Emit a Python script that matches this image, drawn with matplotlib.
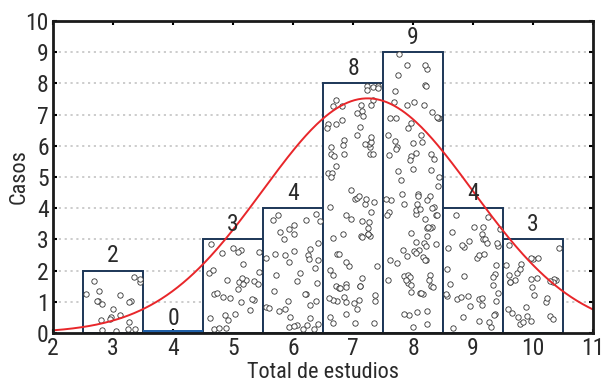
import numpy as np
import matplotlib.pyplot as plt

# histogram data
bins = [3, 4, 5, 6, 7, 8, 9, 10]
counts = [2, 0, 3, 4, 8, 9, 4, 3]

plt.rcParams['font.family'] = ['Roboto Condensed', 'Liberation Sans Narrow', 'Roboto', 'DejaVu Sans']
txt = '#2a2a2a'
edge = '#1c3657'

fig = plt.figure(figsize=(6.04, 3.89), dpi=100)
ax = fig.add_axes([0.0877, 0.144, 0.8943, 0.802])

ax.set_xlim(2, 11)
ax.set_ylim(0, 10)
for y in range(1, 10):
    ax.axhline(y, color='#c4c4c4', lw=1.2, ls=(0, (1.3, 2.2)), zorder=0)

ax.bar(bins, counts, width=1.0, facecolor='white', edgecolor=edge, lw=1.4, zorder=2)
# empty bin is drawn as a thin blue strip
for b, c in zip(bins, counts):
    if c == 0:
        ax.bar(b, 0.09, width=1.0, color='#2060a8', lw=0, zorder=2)

# speckle texture inside the bars (decoration only)
rng = np.random.default_rng(7)
for b, c in zip(bins, counts):
    n = int(c * 11)
    if n == 0:
        continue
    px = rng.uniform(b - 0.46, b + 0.46, n)
    py = rng.uniform(0.06, c - 0.06, n)
    ax.scatter(px, py, s=15, facecolor='white', edgecolor='#333333', lw=0.6, zorder=3)

for b, c in zip(bins, counts):
    ax.text(b, c + 0.1, str(c), ha='center', va='bottom', fontsize=17, color=txt, zorder=5)

# fitted normal curve
vals = np.repeat(bins, counts)
mu = vals.mean()
sd = vals.std(ddof=1)
xs = np.linspace(2, 11, 300)
ys = len(vals) * 1.0 / (sd * np.sqrt(2 * np.pi)) * np.exp(-0.5 * ((xs - mu) / sd) ** 2)
ax.plot(xs, ys, color='#e8262a', lw=1.4, zorder=4)

ax.set_xticks(range(2, 12))
ax.set_yticks(range(0, 11))
ax.tick_params(direction='in', length=3, width=1.5, labelsize=17, labelcolor=txt,
               top=True, right=True, pad=3)
for s in ax.spines.values():
    s.set_linewidth(2)
    s.set_color('#1a1a1a')
    s.set_zorder(6)
ax.set_xlabel('Total de estudios', fontsize=16, color=txt, labelpad=1)
ax.set_ylabel('Casos', fontsize=16, color=txt, labelpad=-3)

fig.savefig('out.png', dpi=100)
